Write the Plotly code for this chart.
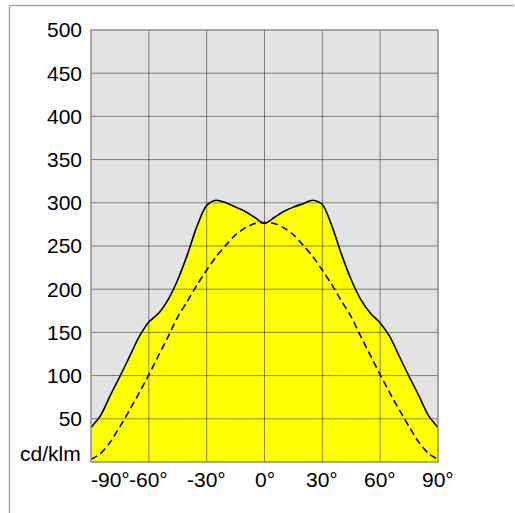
import plotly.graph_objects as go

angles = list(range(-90, 91, 5))
intensity = [40, 54, 77, 99, 122, 145, 162, 172, 188, 211, 240, 273, 297, 303, 300, 295, 290, 283,
             276,
             283, 290, 295, 299, 303, 298, 273, 240, 211, 188, 172, 161, 145, 122, 99, 77, 54, 40]
intensity_c90 = [3, 10, 23, 41, 60, 80, 101, 123, 145, 168, 186, 205, 222, 238, 251, 263, 271, 276,
                 277,
                 276, 271, 263, 251, 238, 222, 205, 186, 168, 145, 123, 101, 80, 60, 41, 23, 10, 3]

x_ticks = [-90, -60, -30, 0, 30, 60, 90]
x_labels = ["-90°", "-60°", "-30°", "0°", "30°", "60°", "90°"]
y_ticks = [50, 100, 150, 200, 250, 300, 350, 400, 450, 500]
y_unit = "cd/klm"

FONT = "Liberation Sans, Arial, sans-serif"
FS = 21

fig = go.Figure()
fig.add_trace(go.Scatter(x=angles, y=intensity, mode="lines", fill="tozeroy",
                         fillcolor="#ffff00", line=dict(color="black", width=1.6, shape="spline", smoothing=0.8),
                         hoverinfo="skip", showlegend=False))
fig.add_trace(go.Scatter(x=angles, y=intensity_c90, mode="lines",
                         line=dict(color="black", width=1.6, dash="7px,4px", shape="spline", smoothing=0.8),
                         hoverinfo="skip", showlegend=False))

shapes = []
grid_col = "rgba(0,0,0,0.45)"
for xv in x_ticks[1:-1]:
    shapes.append(dict(type="line", xref="x", yref="paper", x0=xv, x1=xv, y0=0, y1=1,
                       line=dict(color=grid_col, width=1), layer="above"))
for yv in y_ticks[:-1]:
    shapes.append(dict(type="line", xref="paper", yref="y", x0=0, x1=1, y0=yv, y1=yv,
                       line=dict(color=grid_col, width=1), layer="above"))
# plot border
shapes.append(dict(type="rect", xref="paper", yref="paper", x0=0, x1=1, y0=0, y1=1,
                   line=dict(color="#8c8c8c", width=1.5), layer="above"))
# outer frame (top and left)
W, H = 515, 513
L, R, T, B = 91, 77, 30, 51
pw, ph = W - L - R, H - T - B
def px(xp):
    return (xp - L) / pw
def py(yp):
    return (H - B - yp) / ph
shapes.append(dict(type="line", xref="paper", yref="paper", x0=px(9.5), x1=px(514), y0=py(5.5), y1=py(5.5),
                   line=dict(color="#a6a6a6", width=1.5)))
shapes.append(dict(type="line", xref="paper", yref="paper", x0=px(9.5), x1=px(9.5), y0=py(5.5), y1=py(513),
                   line=dict(color="#a6a6a6", width=1.5)))

annotations = []
for xv, lab in zip(x_ticks, x_labels):
    annotations.append(dict(x=xv, y=py(466), xref="x", yref="paper", text=lab, showarrow=False,
                            xanchor="left" if xv == -90 else "center", yanchor="top",
                            font=dict(family=FONT, size=FS, color="black"), xshift=-2 if xv == -90 else 0))
annotations.append(dict(x=px(83), y=py(453), xref="paper", yref="paper", text=y_unit, showarrow=False,
                        xanchor="right", yanchor="middle", font=dict(family=FONT, size=FS, color="black")))

fig.update_layout(
    width=W, height=H, autosize=False,
    margin=dict(l=L, r=R, t=T, b=B, pad=0),
    paper_bgcolor="white", plot_bgcolor="#e3e3e3",
    shapes=shapes, annotations=annotations,
    xaxis=dict(range=[-90, 90], showgrid=False, zeroline=False, showticklabels=False, ticks="",
               fixedrange=True),
    yaxis=dict(range=[0, 500], tickvals=y_ticks, showgrid=False, zeroline=False, ticks="",
               ticklabelstandoff=8, tickfont=dict(family=FONT, size=FS, color="black"), fixedrange=True),
    showlegend=False,
)

fig.write_html("out.html", config={"displayModeBar": False},
               post_script="document.body.style.margin='0';document.body.style.overflow='hidden';")
